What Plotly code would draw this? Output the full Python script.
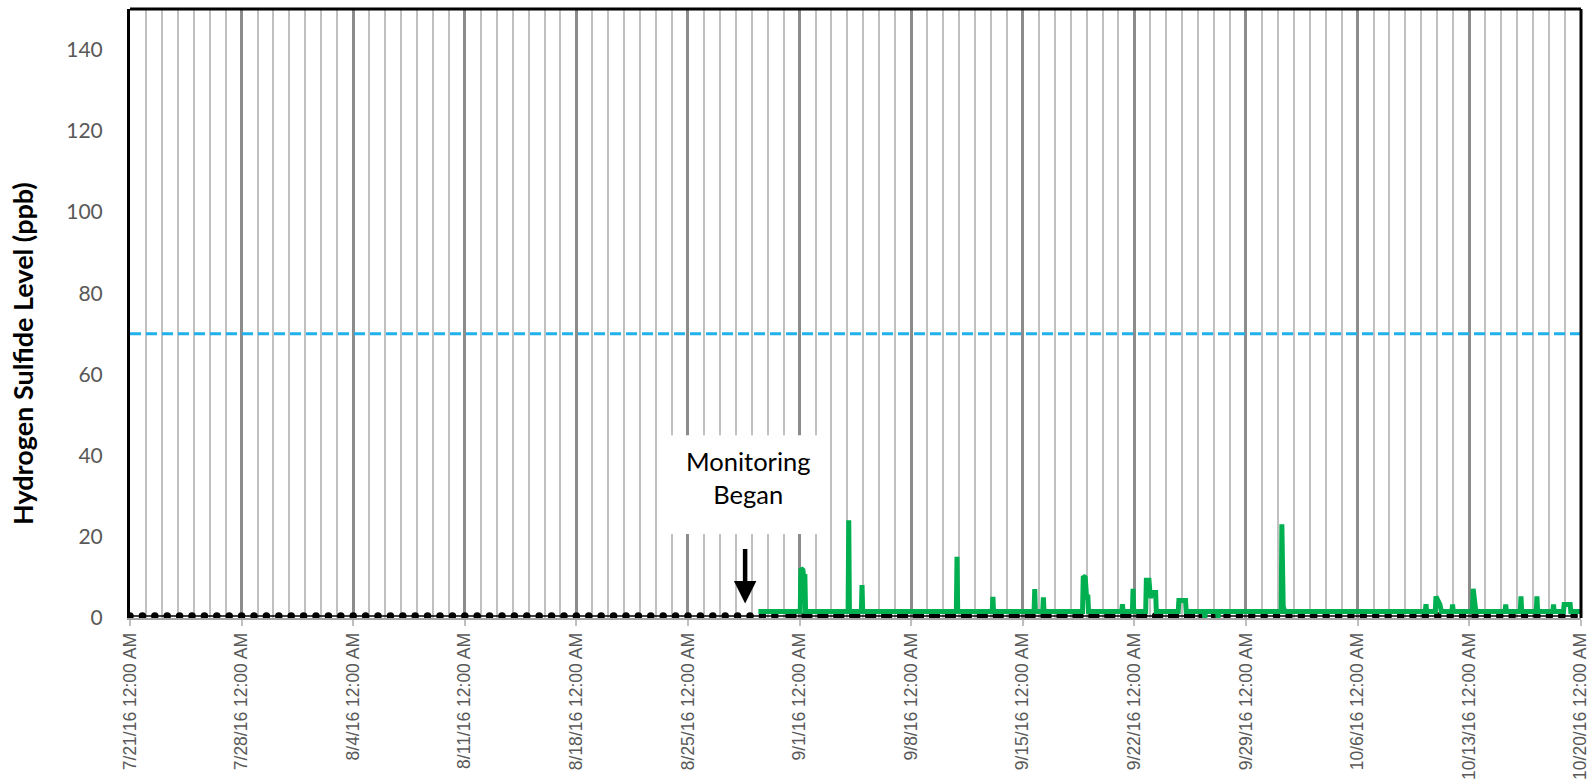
import plotly.graph_objects as go
import pandas as pd

# ---------------- data ----------------
x_start = "2016-07-21 00:00"
x_end = "2016-10-20 00:00"

tick_dates = ["2016-07-21", "2016-07-28", "2016-08-04", "2016-08-11", "2016-08-18",
              "2016-08-25", "2016-09-01", "2016-09-08", "2016-09-15", "2016-09-22",
              "2016-09-29", "2016-10-06", "2016-10-13", "2016-10-20"]
tick_labels = ["7/21/16 12:00 AM", "7/28/16 12:00 AM", "8/4/16 12:00 AM", "8/11/16 12:00 AM",
               "8/18/16 12:00 AM", "8/25/16 12:00 AM", "9/1/16 12:00 AM", "9/8/16 12:00 AM",
               "9/15/16 12:00 AM", "9/22/16 12:00 AM", "9/29/16 12:00 AM", "10/6/16 12:00 AM",
               "10/13/16 12:00 AM", "10/20/16 12:00 AM"]

y_ticks = [0, 20, 40, 60, 80, 100, 120, 140]

# Hydrogen sulfide readings (ppb)
green_times = [
    "2016-08-29 10:00",
    "2016-09-01 01:00", "2016-09-01 02:00", "2016-09-01 05:00", "2016-09-01 06:00", "2016-09-01 08:00", "2016-09-01 09:00",
    "2016-09-04 01:00", "2016-09-04 02:00", "2016-09-04 03:00",
    "2016-09-04 21:00", "2016-09-04 22:00", "2016-09-04 23:00",
    "2016-09-10 20:00", "2016-09-10 21:00", "2016-09-10 22:00",
    "2016-09-13 02:00", "2016-09-13 03:00", "2016-09-13 04:00",
    "2016-09-15 17:00", "2016-09-15 18:00", "2016-09-15 19:00",
    "2016-09-16 06:00", "2016-09-16 07:00", "2016-09-16 08:00",
    "2016-09-18 18:00", "2016-09-18 19:00", "2016-09-18 22:00", "2016-09-19 00:00", "2016-09-19 02:00", "2016-09-19 03:00",
    "2016-09-21 05:00", "2016-09-21 06:00", "2016-09-21 07:00",
    "2016-09-21 21:00", "2016-09-21 22:00", "2016-09-21 23:00",
    "2016-09-22 17:00", "2016-09-22 18:00", "2016-09-22 22:00", "2016-09-23 00:00", "2016-09-23 04:00", "2016-09-23 08:00", "2016-09-23 09:00",
    "2016-09-24 18:00", "2016-09-24 19:00", "2016-09-25 05:00", "2016-09-25 06:00",
    "2016-09-26 09:00", "2016-09-26 10:00", "2016-09-26 11:00",
    "2016-09-27 05:00", "2016-09-27 06:00", "2016-09-27 07:00",
    "2016-10-01 05:00", "2016-10-01 06:00", "2016-10-01 08:00", "2016-10-01 10:00",
    "2016-10-10 06:00", "2016-10-10 07:00", "2016-10-10 08:00",
    "2016-10-10 21:00", "2016-10-10 22:00", "2016-10-11 04:00", "2016-10-11 06:00",
    "2016-10-11 22:00", "2016-10-11 23:00", "2016-10-12 00:00",
    "2016-10-13 05:00", "2016-10-13 06:00", "2016-10-13 09:00", "2016-10-13 10:00",
    "2016-10-15 06:00", "2016-10-15 07:00", "2016-10-15 08:00",
    "2016-10-16 05:00", "2016-10-16 06:00", "2016-10-16 07:00",
    "2016-10-17 05:00", "2016-10-17 06:00", "2016-10-17 07:00",
    "2016-10-18 06:00", "2016-10-18 07:00", "2016-10-18 08:00",
    "2016-10-18 22:00", "2016-10-18 23:00", "2016-10-19 08:00", "2016-10-19 09:00",
    "2016-10-20 00:00",
]
green_ppb = [
    1.6,
    1.6, 12.2, 11.8, 10.2, 10.2, 1.6,
    1.6, 24.1, 1.6,
    1.6, 8.1, 1.6,
    1.6, 15.1, 1.6,
    1.6, 5.2, 1.6,
    1.6, 7.1, 1.6,
    1.6, 5.1, 1.6,
    1.6, 10.3, 10.0, 5.2, 5.2, 1.6,
    1.6, 3.4, 1.6,
    1.6, 7.2, 1.6,
    1.6, 9.3, 9.3, 5.0, 6.3, 6.3, 1.6,
    1.6, 4.3, 4.3, 1.6,
    1.6, 0.0, 1.6,
    1.6, 0.0, 1.6,
    1.6, 23.1, 3.0, 1.6,
    1.6, 3.4, 1.6,
    1.6, 5.3, 3.3, 1.6,
    1.6, 3.3, 1.6,
    1.6, 7.2, 3.0, 1.6,
    1.6, 3.3, 1.6,
    1.6, 5.3, 1.6,
    1.6, 5.3, 1.6,
    1.6, 3.3, 1.6,
    1.6, 3.3, 3.3, 1.6,
    1.6,
]

detection_limit = 0.5
dl_times = (
    list(pd.date_range("2016-07-21 00:00", "2016-08-30 12:00", freq="1120min"))
    + [t for d in pd.date_range("2016-08-31", "2016-09-25", freq="D")
       for t in (d + pd.Timedelta(hours=8), d + pd.Timedelta(hours=14))]
    + list(pd.date_range("2016-09-26 06:00", "2016-10-19 16:00", freq="1120min"))
)
dl_values = [detection_limit] * len(dl_times)

threshold = 70
threshold_times = [x_start, x_end]
threshold_values = [threshold, threshold]

marker_time = "2016-08-28 14:00"
marker_text = "Monitoring<br>Began"

# ---------------- figure ----------------
fig = go.Figure()

fig.add_trace(go.Scatter(
    x=threshold_times, y=threshold_values, mode="lines",
    line=dict(color="#1fb1ea", width=3, dash="11px,5px"),
    showlegend=False, hoverinfo="skip"))

fig.add_trace(go.Scatter(
    x=dl_times, y=dl_values, mode="lines+markers",
    line=dict(color="black", width=1.5),
    marker=dict(color="black", size=7.5),
    showlegend=False))

fig.add_trace(go.Scatter(
    x=green_times, y=green_ppb, mode="lines",
    line=dict(color="#00b050", width=5),
    showlegend=False))

fig.update_layout(
    width=1587, height=781, autosize=False,
    margin=dict(l=130, r=6, t=9, b=163),
    paper_bgcolor="white", plot_bgcolor="white",
    showlegend=False,
)

fig.update_xaxes(
    type="date", automargin=False,
    range=[x_start, "2016-10-20 00:20"],
    tickmode="array", tickvals=tick_dates, ticktext=tick_labels,
    tickangle=-90, ticklabeloverflow="allow",
    tickfont=dict(family="Liberation Sans", size=17.5, color="#595959"),
    ticks="outside", ticklen=6, tickwidth=2, tickcolor="#bfbfbf",
    showline=True, linecolor="#a6a6a6", linewidth=2,
    showgrid=True, gridcolor="#8c8c8c", gridwidth=3,
    minor=dict(dtick=86400000, tick0="2016-07-21", showgrid=True,
               gridcolor="#c0c0c0", gridwidth=2, ticks=""),
    zeroline=False,
)

fig.update_yaxes(
    range=[0, 150], automargin=False,
    tickmode="array", tickvals=y_ticks,
    tickfont=dict(family="Lato", size=21, color="#595959"),
    ticks="", ticklabelstandoff=20,
    showgrid=False, zeroline=False,
    showline=True, linecolor="black", linewidth=3,
)

# frame: top and right borders
fig.add_shape(type="line", xref="paper", yref="paper", x0=0, x1=1, y0=1, y1=1,
              line=dict(color="black", width=3))
fig.add_shape(type="line", xref="paper", yref="paper", x0=1, x1=1, y0=0, y1=1,
              line=dict(color="black", width=3))

# white background box of the label
fig.add_shape(type="rect", xref="x", yref="y",
              x0="2016-08-23 17:00", x1="2016-09-02 20:00", y0=20.7, y1=45.0,
              fillcolor="white", line=dict(width=0), layer="above")

# y axis title
fig.add_annotation(
    xref="paper", yref="paper", x=-0.0737, y=0.4335,
    text="<b>Hydrogen Sulfide Level (ppb)</b>", textangle=-90,
    showarrow=False, xanchor="center", yanchor="middle",
    font=dict(family="Lato", size=27, color="black"))

# Monitoring began label
fig.add_annotation(
    x="2016-08-28 19:00", y=34.6, text=marker_text, showarrow=False,
    align="center", xanchor="center", yanchor="middle",
    font=dict(family="Lato", size=25.5, color="black"))

# arrow
fig.add_annotation(
    x=marker_time, y=3.6, text="", showarrow=True,
    ax=0, ay=-56, arrowhead=2, arrowsize=1, arrowwidth=4.5, arrowcolor="black")

fig.write_html("out.html", config={"displayModeBar": False},
               post_script="document.body.style.margin='0px';")
